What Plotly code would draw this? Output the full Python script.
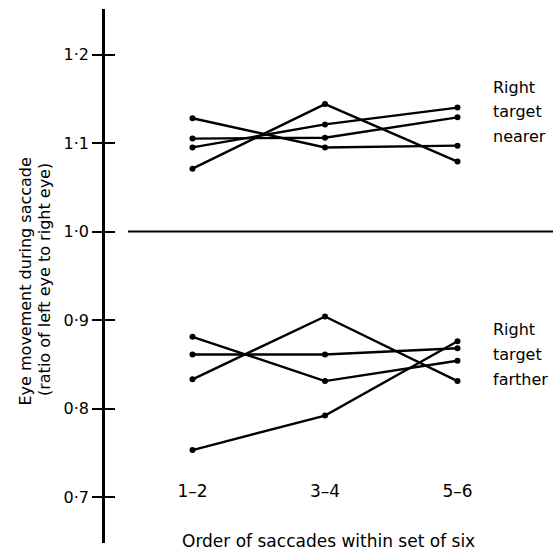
import plotly.graph_objects as go

# Data
categories = ["1–2", "3–4", "5–6"]
x_pos = [1, 2, 3]
nearer_series = [
    [1.128, 1.095, 1.097],
    [1.071, 1.144, 1.079],
    [1.105, 1.106, 1.129],
    [1.095, 1.121, 1.140],
]
farther_series = [
    [0.881, 0.831, 0.854],
    [0.861, 0.861, 0.868],
    [0.833, 0.904, 0.831],
    [0.753, 0.792, 0.876],
]
y_tickvals = [0.7, 0.8, 0.9, 1.0, 1.1, 1.2]
y_ticktext = ["0·7", "0·8", "0·9", "1·0", "1·1", "1·2"]
y_title_lines = ["Eye movement during saccade", "(ratio of left eye to right eye)"]
x_title = "Order of saccades within set of six"
nearer_label = ["Right", "target", "nearer"]
farther_label = ["Right", "target", "farther"]

W, H = 553, 554
FONT = "DejaVu Sans, Arial, sans-serif"
FS = 16

fig = go.Figure()
for s in nearer_series + farther_series:
    fig.add_trace(go.Scatter(
        x=x_pos, y=s, mode="lines+markers",
        line=dict(color="black", width=2.4),
        marker=dict(color="black", size=6),
        showlegend=False, hoverinfo="skip", cliponaxis=False,
    ))

# Reference line at ratio 1.0
fig.add_shape(type="line", xref="paper", yref="y", x0=128 / W, x1=1,
              y0=1.0, y1=1.0, line=dict(color="black", width=2))

ydom = [1 - 543 / H, 1 - 9 / H]
# pixel->value: 1.0 at 231.5, 0.1 per 88.5 px
yr = [1.0 - (543 - 231.5) / 885, 1.0 + (231.5 - 9) / 885]
# x: 1 at 192.5, 132.5 px per step, domain from 105
xr = [1 - (192.5 - 105) / 132.5, 1 + (W - 192.5) / 132.5]

fig.update_layout(
    width=W, height=H,
    margin=dict(l=0, r=0, t=0, b=0),
    paper_bgcolor="white", plot_bgcolor="white",
    font=dict(family=FONT, size=FS, color="black"),
    xaxis=dict(
        domain=[105 / W, 1], range=xr,
        tickvals=x_pos, ticktext=categories,
        anchor="free", position=1 - 479 / H,
        showgrid=False, zeroline=False, showline=False, ticks="",
        tickfont=dict(size=17, family=FONT),
    ),
    yaxis=dict(
        domain=ydom, range=yr,
        tickvals=y_tickvals, ticktext=y_ticktext,
        showline=True, linecolor="black", linewidth=2.5,
        ticks="outside", ticklen=10, tickwidth=2, tickcolor="black",
        showgrid=False, zeroline=False,
        tickfont=dict(size=FS, family=FONT),
    ),
    yaxis2=dict(
        domain=ydom, range=yr,
        overlaying="y", anchor="x", side="left",
        tickvals=y_tickvals, showticklabels=False,
        ticks="inside", ticklen=10, tickwidth=2, tickcolor="black",
        showgrid=False, zeroline=False, showline=False,
    ),
)

fig.add_trace(go.Scatter(x=[None], y=[None], yaxis="y2", showlegend=False, hoverinfo="skip"))

annotations = [
    dict(text=x_title, x=328, y=541, font=dict(size=17)),
    dict(text=y_title_lines[0], x=25, y=281.5, textangle=-90, font=dict(size=16)),
    dict(text=y_title_lines[1], x=44, y=280, textangle=-90, font=dict(size=16)),
]
for i, t in enumerate(nearer_label):
    annotations.append(dict(text=t, x=491, y=87 + 25 * i, xanchor="left"))
for i, t in enumerate(farther_label):
    annotations.append(dict(text=t, x=491, y=329 + 25 * i, xanchor="left"))

for a in annotations:
    a["x"] = a["x"] / W
    a["y"] = 1 - a["y"] / H
    a["xref"] = "paper"
    a["yref"] = "paper"
    a.setdefault("xanchor", "center")
    a["yanchor"] = "middle"
    a["showarrow"] = False
    a.setdefault("font", dict(size=FS))
    fig.add_annotation(**a)

fig.write_html("out.html", config={"displayModeBar": False},
               post_script="document.body.style.margin='0px';")
